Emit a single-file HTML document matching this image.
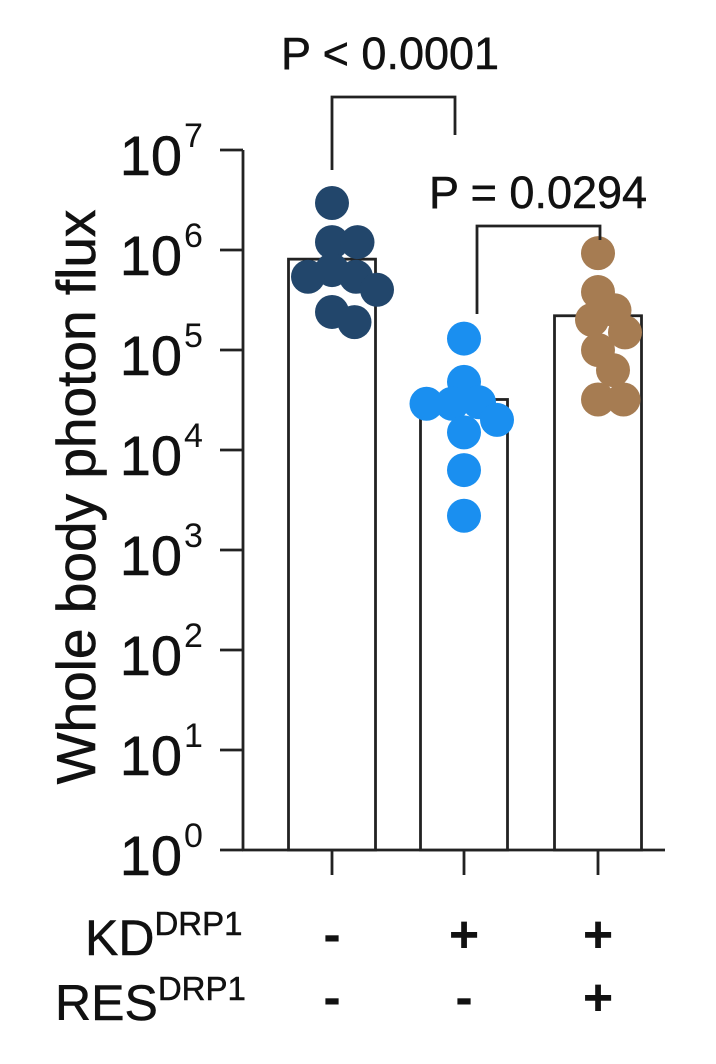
<!DOCTYPE html>
<html><head><meta charset="utf-8"><style>
html,body{margin:0;padding:0;background:#fff;}
svg{display:block;font-family:"Liberation Sans",Arial,sans-serif;}
</style></head><body>
<svg id="chart" width="716" height="1064" viewBox="0 0 716 1064" xmlns="http://www.w3.org/2000/svg">
<g id="axes"></g>
<g id="bars"></g>
<g id="dots"></g>
<g id="annot"></g>
<text transform="translate(95,497) rotate(-90)" text-anchor="middle" font-size="55" fill="#111" stroke="#111" stroke-width="0.6">Whole body photon flux</text>
<text x="85" y="955" font-size="50" fill="#111" stroke="#111" stroke-width="0.5">KD<tspan font-size="33" dy="-20">DRP1</tspan></text>
<text x="55" y="1020" font-size="50" fill="#111" stroke="#111" stroke-width="0.5">RES<tspan font-size="33" dy="-20">DRP1</tspan></text>
</svg>
<script>
const groups = ["control", "kd", "kd-res"];
const means = [8.1e5, 3.2e4, 2.2e5];
const control = [2.95e6, 1.2e6, 1.2e6, 6.3e5, 5.4e5, 5.4e5, 4.0e5, 2.4e5, 1.9e5];
const kd = [1.3e5, 4.8e4, 3.0e4, 2.9e4, 2.9e4, 2.0e4, 1.5e4, 6.3e3, 2.2e3];
const kdres = [9.3e5, 3.8e5, 2.5e5, 2.0e5, 1.5e5, 1.0e5, 6.3e4, 3.2e4, 3.2e4];
const colors = ["#22466b", "#1a8ff0", "#a67c52"];
const yTickExps = [0, 1, 2, 3, 4, 5, 6, 7];
const kdSigns = ["-", "+", "+"];
const resSigns = ["-", "-", "+"];
const pLabels = ["P < 0.0001", "P = 0.0294"];

const NS = "http://www.w3.org/2000/svg";
const X0 = 243, Y0 = 850, DEC = 100;
const centers = [332, 464, 598];
const BW = 87, R = 17;
function yScale(v){ return Y0 - Math.log10(v) * DEC; }
function xScale(i){ return centers[i]; }
function mk(tag, attrs, parent){ const e = document.createElementNS(NS, tag); for (const k in attrs) e.setAttribute(k, attrs[k]); parent.appendChild(e); return e; }

const axes = document.getElementById('axes');
let l = mk('line', {x1:X0, y1:yScale(1e7), x2:X0, y2:Y0, stroke:'#222', 'stroke-width':2.8}, axes);


l = mk('line', {x1:X0-1, y1:Y0, x2:665, y2:Y0, stroke:'#222', 'stroke-width':2.8}, axes);


yTickExps.forEach(e => {
  const y = yScale(Math.pow(10, e));
  const t = mk('line', {x1:X0-23, y1:y, x2:X0, y2:y, stroke:'#222', 'stroke-width':2.8}, axes);
  
  
  const tx = mk('text', {x:182, y:y+25, 'font-size':56, 'text-anchor':'end', fill:'#111', stroke:'#111', 'stroke-width':0.5}, axes);
  
  
  tx.textContent = '10';
  const sup = mk('text', {x:184, y:y-3, 'font-size':34, fill:'#111'}, axes);
  
  
  sup.textContent = String(e);
});
groups.forEach((g, i) => {
  const t = mk('line', {x1:xScale(i), y1:Y0, x2:xScale(i), y2:Y0+25, stroke:'#222', 'stroke-width':2.8}, axes);
  
  
  const a = mk('text', {x:xScale(i), y:952, 'font-size':52, 'font-weight':'bold', 'text-anchor':'middle', fill:'#111'}, axes);
  
  
  a.textContent = kdSigns[i];
  const b = mk('text', {x:xScale(i), y:1015, 'font-size':52, 'font-weight':'bold', 'text-anchor':'middle', fill:'#111'}, axes);
  
  
  b.textContent = resSigns[i];
});

const bars = document.getElementById('bars');
means.forEach((m, i) => {
  const y = yScale(m);
  const r = mk('rect', {x:xScale(i)-BW/2, y:y, width:BW, height:Y0-y, fill:'#fff', stroke:'#222', 'stroke-width':2.8}, bars);
  
  
});

const dotsG = document.getElementById('dots');
[control, kd, kdres].forEach((arr, gi) => {
  const placed = [];
  arr.slice().sort((a,b)=>b-a).forEach(v => {
    const y = yScale(v);
    let best = 0;
    const cands = [0];
    for (let k = 1; k < 40; k++){ cands.push(k*1.5); cands.push(-k*1.5); }
    for (const dx of cands){
      if (placed.every(p => Math.hypot(p[0]-dx, p[1]-y) >= 2*R*0.72)){ best = dx; break; }
    }
    placed.push([best, y]);
    const c = mk('circle', {cx:xScale(gi)+best, cy:y, r:R, fill:colors[gi]}, dotsG);
    
    
  });
});

const an = document.getElementById('annot');
function bracket(x1, x2, top, b1, b2, label, ty, tx, name){
  const p = mk('path', {d:`M${x1},${b1} V${top} H${x2} V${b2}`, fill:'none', stroke:'#222', 'stroke-width':2.8}, an);
  
  
  const t = mk('text', {x:tx, y:ty, 'font-size':45, 'text-anchor':'middle', fill:'#111', stroke:'#111', 'stroke-width':0.5}, an);
  
  
  t.textContent = label;
}
bracket(332, 455, 97, 170, 135, pLabels[0], 69, 390, 'p-value-1');
bracket(477, 600, 226, 314, 240, pLabels[1], 208, 538, 'p-value-2');
</script>
</body></html>
